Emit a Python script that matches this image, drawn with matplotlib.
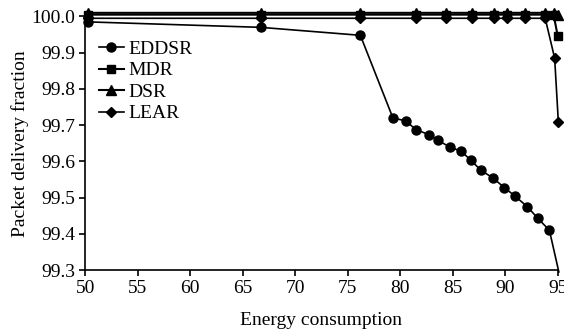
import matplotlib
matplotlib.use("Agg")
import matplotlib.pyplot as plt

plt.rcParams['font.family'] = ['Liberation Serif', 'DejaVu Serif']

# EDDSR curve
eddsr_x = [50.3, 66.7, 76.2, 79.3, 80.5, 81.5, 82.7, 83.6, 84.7, 85.8, 86.7, 87.7,
           88.8, 89.9, 90.9, 92.1, 93.1, 94.2, 95.1]
eddsr_y = [99.985, 99.97, 99.948, 99.72, 99.712, 99.688, 99.674, 99.658, 99.64, 99.628,
           99.604, 99.575, 99.555, 99.528, 99.505, 99.475, 99.443, 99.41, 99.295]

# the three curves that stay near 100
top_x = [50.3, 66.7, 76.2, 81.5, 84.4, 86.8, 88.9, 90.2, 91.9, 93.8, 94.6, 95.0]
mdr_y = [100.005, 100.005, 100.005, 100.005, 100.005, 100.005, 100.005, 100.005,
         100.005, 100.005, 100.005, 99.945]
dsr_y = [100.01, 100.01, 100.01, 100.01, 100.01, 100.01, 100.01, 100.01,
         100.01, 100.01, 100.01, 100.005]
lear_x = [50.3, 66.7, 76.2, 81.5, 84.4, 86.8, 88.9, 90.2, 91.9, 93.8, 94.7, 95.05]
lear_y = [99.995, 99.995, 99.995, 99.995, 99.995, 99.995, 99.995, 99.995,
          99.995, 99.995, 99.885, 99.71]

xticks = [50, 55, 60, 65, 70, 75, 80, 85, 90, 95]
yticks = [99.3, 99.4, 99.5, 99.6, 99.7, 99.8, 99.9, 100.0]

fig = plt.figure(figsize=(5.64, 3.36), dpi=100)
ax = fig.add_axes([0.151, 0.196, 0.838, 0.755])

ax.plot(eddsr_x, eddsr_y, color='black', lw=1.2, marker='o', ms=6.5,
        markevery=list(range(len(eddsr_x) - 1)), label='EDDSR', clip_on=False)
ax.plot(top_x, mdr_y, color='black', lw=1.5, marker='s', ms=6,
        label='MDR', clip_on=False)
ax.plot(top_x, dsr_y, color='black', lw=1.5, marker='^', ms=6.5,
        label='DSR', clip_on=False)
ax.plot(lear_x, lear_y, color='black', lw=1.2, marker='D', ms=5,
        label='LEAR', clip_on=False)

ax.set_xlim(50, 95)
ax.set_ylim(99.3, 100.0)
ax.set_xticks(xticks)
ax.set_yticks(yticks)
ax.set_yticklabels([f'{v:.1f}' for v in yticks])
ax.spines['top'].set_visible(False)
ax.spines['right'].set_visible(False)
ax.spines['left'].set_linewidth(1.2)
ax.spines['bottom'].set_linewidth(1.2)
ax.tick_params(direction='out', length=4, width=1.2, labelsize=14, pad=3)

ax.set_xlabel('Energy consumption', fontsize=14, labelpad=11)
ax.set_ylabel('Packet delivery fraction', fontsize=14, labelpad=2)

ax.legend(loc='upper left', bbox_to_anchor=(0.0, 0.96), frameon=False,
          fontsize=14, handlelength=1.3, handletextpad=0.2, labelspacing=0.2,
          borderaxespad=0.3)

fig.savefig('out.png', dpi=100)
